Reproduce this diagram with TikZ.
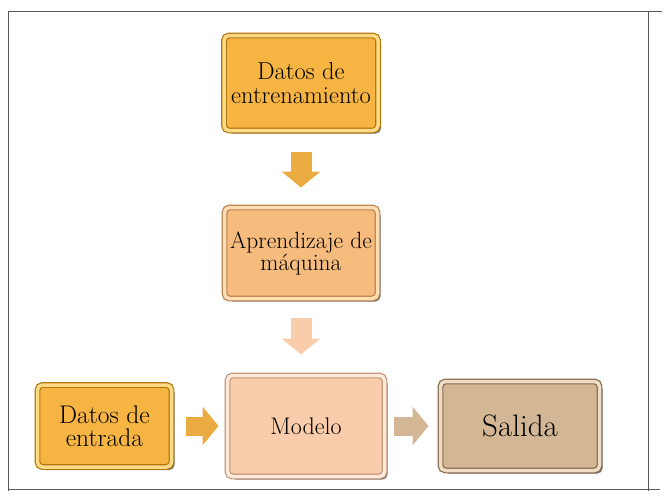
\documentclass[tikz,border=0pt]{standalone}
\usepackage{fontspec}
\usepackage{tikz}
\usetikzlibrary{positioning, arrows.meta, shadows}

\definecolor{goldfill}{HTML}{F6B443}
\definecolor{goldline}{HTML}{B3760F}
\definecolor{goldlite}{HTML}{FFDA85}
\definecolor{orfill}{HTML}{F6BC7E}
\definecolor{orline}{HTML}{B98048}
\definecolor{orlite}{HTML}{FFDDB5}
\definecolor{pchfill}{HTML}{F9CDAB}
\definecolor{pchline}{HTML}{BF9474}
\definecolor{pchlite}{HTML}{FFE9D8}
\definecolor{tanfill}{HTML}{D3B794}
\definecolor{tanline}{HTML}{85694C}
\definecolor{tanlite}{HTML}{EEDCC4}
\definecolor{framegray}{HTML}{5A5A5A}

\begin{document}
\begin{tikzpicture}[
    x=1pt, y=-1pt,
    box/.style={rectangle, rounded corners=5pt, align=center, line width=1.2pt,
        double distance=3.5pt, outer sep=3pt, inner sep=1pt,
        drop shadow={shadow xshift=3pt, shadow yshift=-3pt, fill=black!75, opacity=0.7}},
    blk/.style={line width=21pt, -{Triangle[length=16pt, width=38pt]}},
    frame/.style={draw=framegray, line width=0.8pt}
]
\useasboundingbox (0,0) rectangle (665,499);

% Frame
\draw[frame] (8,11) -- (662,11);
\draw[frame] (8,489) -- (660,489);
\draw[frame] (8,11) -- (8,491);
\draw[frame] (648,11) -- (648,491);

% Boxes
\node[box, fill=goldfill, draw=goldline, double=goldlite, minimum width=154pt, minimum height=95pt,
    font=\fontsize{24.5}{24}\selectfont] (train) at (301,83) {Datos de\\entrenamiento};
\node[box, fill=orfill, draw=orline, double=orlite, minimum width=153pt, minimum height=91pt,
    font=\fontsize{23.5}{22}\selectfont, below=71pt of train] (learn) {Aprendizaje de\\m\'aquina};
\node[box, fill=pchfill, draw=pchline, double=pchlite, minimum width=157pt, minimum height=101pt,
    font=\fontsize{24}{24}\selectfont, below=71pt of learn, xshift=5pt] (model) {Modelo};
\node[box, fill=goldfill, draw=goldline, double=goldlite, minimum width=134pt, minimum height=82pt,
    font=\fontsize{25.5}{23}\selectfont, left=50pt of model] (input) {Datos de\\entrada};
\node[box, fill=tanfill, draw=tanline, double=tanlite, minimum width=159pt, minimum height=89pt,
    font=\fontsize{31}{32}\selectfont, right=50pt of model] (out) {Salida};

% Block arrows
\draw[blk, draw=goldfill!95!black, shorten <=18pt, shorten >=17pt] (train) -- (learn);
\draw[blk, draw=pchfill, shorten <=16pt, shorten >=18pt] (learn.south) -- (learn.south |- model.north);
\draw[blk, line width=19pt, draw=goldfill!95!black, shorten <=11pt, shorten >=6pt] (input) -- (model);
\draw[blk, line width=19pt, draw=tanfill, shorten <=6pt, shorten >=9pt] (model) -- (out);

\end{tikzpicture}
\end{document}
